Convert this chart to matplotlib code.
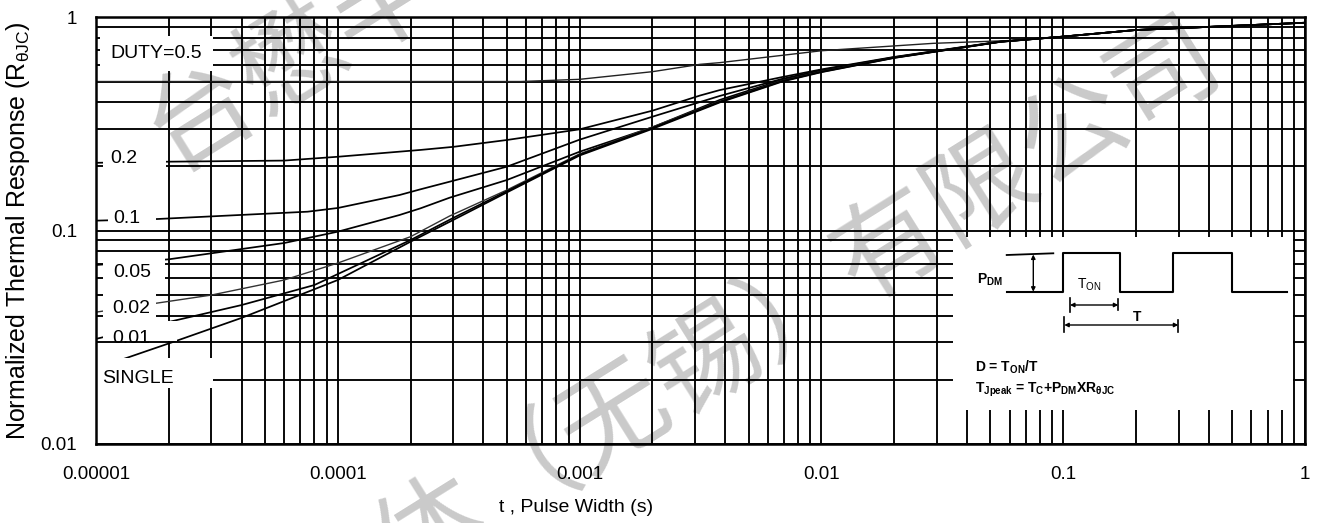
import matplotlib
matplotlib.use("Agg")
import matplotlib.pyplot as plt
from matplotlib.patches import Rectangle
from matplotlib.ticker import FixedLocator, FixedFormatter, LogLocator, NullFormatter

plt.rcParams['font.family'] = ['Liberation Sans', 'DejaVu Sans']
plt.rcParams['mathtext.fontset'] = 'custom'
plt.rcParams['mathtext.rm'] = 'Liberation Sans'
plt.rcParams['mathtext.bf'] = 'Liberation Sans:bold'
plt.rcParams['mathtext.it'] = 'Liberation Sans:italic'

# ---- transient thermal response curves: pulse width (s) vs normalized Zth ----
t_d05 = [1e-5, 4e-4, 5.7e-4, 1e-3, 2e-3, 3.15e-3, 3.8e-3, 1e-2, 2.9e-2, 6e-2, 0.1, 0.2, 1.0]
r_d05 = [0.50, 0.50, 0.50, 0.512, 0.556, 0.602, 0.613, 0.697, 0.755, 0.778, 0.812, 0.872, 0.943]

t_d02 = [1e-5, 2e-5, 6e-5, 1e-4, 2.2e-4, 3e-4, 5e-4, 1e-3, 2e-3, 3.15e-3, 3.8e-3, 6.9e-3, 1e-2, 2e-2, 5.5e-2, 0.1, 0.2, 1.0]
r_d02 = [0.208, 0.2105, 0.213, 0.222, 0.239, 0.247, 0.266, 0.2985, 0.365, 0.43, 0.456, 0.525, 0.57, 0.652, 0.77, 0.812, 0.872, 0.943]

t_d01 = [1e-5, 1.8e-5, 7.5e-5, 1e-4, 1.8e-4, 2.2e-4, 2.9e-4, 5e-4, 1e-3, 2e-3, 3.8e-3, 6.9e-3, 1e-2, 2e-2, 5.5e-2, 0.1, 0.2, 1.0]
r_d01 = [0.1114, 0.1134, 0.1227, 0.1277, 0.1469, 0.1563, 0.1696, 0.1994, 0.267, 0.342, 0.428, 0.515, 0.565, 0.65, 0.769, 0.812, 0.872, 0.943]

t_d005 = [1e-5, 2e-5, 6e-5, 1e-4, 1.8e-4, 2.2e-4, 2.9e-4, 5e-4, 1e-3, 2e-3, 3.8e-3, 6.9e-3, 1e-2, 2e-2, 5.5e-2, 0.1, 0.2, 1.0]
r_d005 = [0.069, 0.0734, 0.0875, 0.0989, 0.1184, 0.1273, 0.1427, 0.1727, 0.2344, 0.305, 0.41, 0.51, 0.56, 0.648, 0.768, 0.812, 0.872, 0.943]

t_d002 = [1e-5, 1.8e-5, 3e-5, 6e-5, 1e-4, 2e-4, 2.9e-4, 5e-4, 1e-3, 2e-3, 3.8e-3, 6.9e-3, 1e-2, 2e-2, 5.5e-2, 0.1, 0.2, 1.0]
r_d002 = [0.0415, 0.0458, 0.0499, 0.0587, 0.0705, 0.0937, 0.1171, 0.155, 0.229, 0.306, 0.404, 0.505, 0.557, 0.647, 0.768, 0.812, 0.872, 0.943]

t_d001 = [1e-5, 2.16e-5, 4e-5, 8e-5, 2e-4, 3e-4, 5e-4, 1e-3, 2e-3, 3.8e-3, 6.9e-3, 1e-2, 2e-2, 5.5e-2, 0.1, 0.2, 1.0]
r_d001 = [0.0311, 0.0381, 0.0448, 0.0556, 0.0904, 0.1147, 0.153, 0.227, 0.303, 0.402, 0.503, 0.555, 0.646, 0.768, 0.812, 0.872, 0.943]

t_single = [1e-5, 1.67e-5, 2.16e-5, 4e-5, 1e-4, 2e-4, 3e-4, 5e-4, 1e-3, 2e-3, 3.8e-3, 6.9e-3, 1e-2, 2e-2, 5.5e-2, 0.1, 0.2, 1.0]
r_single = [0.0226, 0.0276, 0.0305, 0.039, 0.0587, 0.0888, 0.1122, 0.151, 0.225, 0.300, 0.399, 0.50, 0.553, 0.645, 0.767, 0.812, 0.872, 0.943]

curve_labels = ["DUTY=0.5", "0.2", "0.1", "0.05", "0.02", "0.01", "SINGLE"]

x_ticks = [1e-5, 1e-4, 1e-3, 1e-2, 1e-1, 1]
x_tick_labels = ["0.00001", "0.0001", "0.001", "0.01", "0.1", "1"]
y_ticks = [0.01, 0.1, 1]
y_tick_labels = ["0.01", "0.1", "1"]

watermark = "台懋半导体（无锡）有限公司"

# ---- figure layout (pixel based) ----
W, H = 1320, 523
L, R, T, B = 96, 1305, 17.3, 444
fig = plt.figure(figsize=(W / 100, H / 100), dpi=100)
fig.patch.set_facecolor('white')
ax = fig.add_axes([L / W, 1 - B / H, (R - L) / W, (B - T) / H])


def pa(x, y):
    """pixel position -> axes fraction"""
    return (x - L) / (R - L), (B - y) / (B - T)


ax.set_xscale('log')
ax.set_yscale('log')
ax.set_xlim(1e-5, 1)
ax.set_ylim(0.01, 1)
ax.xaxis.set_major_locator(FixedLocator(x_ticks))
ax.xaxis.set_major_formatter(FixedFormatter(x_tick_labels))
ax.yaxis.set_major_locator(FixedLocator(y_ticks))
ax.yaxis.set_major_formatter(FixedFormatter(y_tick_labels))
for axis in (ax.xaxis, ax.yaxis):
    axis.set_minor_locator(LogLocator(base=10, subs=range(2, 10), numticks=30))
    axis.set_minor_formatter(NullFormatter())
ax.set_axisbelow(True)
ax.grid(True, which='both', color='black', lw=1.35)
ax.tick_params(which='both', length=0, labelsize=13.5)
ax.tick_params(axis='x', pad=16)
ax.tick_params(axis='y', pad=13.5)
for s in ax.spines.values():
    s.set_linewidth(1.8)
    s.set_zorder(5)

curves = [(t_d05, r_d05, 1.0, '#222222'), (t_d02, r_d02, 1.25, 'black'),
          (t_d01, r_d01, 1.25, 'black'), (t_d005, r_d005, 1.25, 'black'),
          (t_d002, r_d002, 1.0, '#333333'), (t_d001, r_d001, 1.25, 'black'),
          (t_single, r_single, 1.25, 'black')]
for tt, rr, lw, c in curves:
    ax.plot(tt, rr, color=c, lw=lw, zorder=2, solid_capstyle='butt')

# white label boxes covering grid and curve starts
boxes = [(100, 36, 213, 71), (103, 142, 166, 174), (108, 203, 156, 228),
         (103, 257, 165, 283), (103, 289, 156, 320), (103, 321, 177, 341),
         (96, 358, 213, 388)]
text_pos = [(110, 58), (110, 163), (113, 223), (113, 277), (112, 313), (112, 343), (102, 383)]
for (x0, y0, x1, y1), (tx, ty), lab in zip(boxes, text_pos, curve_labels):
    bx, by = pa(x0, y1)
    bw = (x1 - x0) / (R - L)
    bh = (y1 - y0) / (B - T)
    ax.add_patch(Rectangle((bx, by), bw, bh, transform=ax.transAxes,
                           facecolor='white', edgecolor='none', zorder=3))
    px, py = pa(tx, ty)
    ax.text(px, py, lab, transform=ax.transAxes, fontsize=14,
            ha='left', va='baseline', zorder=4)

ax.set_xlabel('t , Pulse Width (s)', fontsize=14)
ax.xaxis.label.set_va('center')
ax.xaxis.set_label_coords(*pa(576, 508))
ax.set_ylabel('Normalized Thermal Response (R$_\\mathrm{θJC}$)', fontsize=18)
ax.yaxis.label.set_va('center')
ax.yaxis.set_label_coords(*pa(18, 230.6))

# ---- inset: pulse train definition ----
IX0, IY0, IX1, IY1 = 953, 237, 1293, 410
ins = fig.add_axes([IX0 / W, 1 - IY1 / H, (IX1 - IX0) / W, (IY1 - IY0) / H])
ins.set_facecolor('white')
ins.set_xlim(0, IX1 - IX0)
ins.set_ylim(IY1 - IY0, 0)
ins.set_xticks([])
ins.set_yticks([])
for s in ins.spines.values():
    s.set_visible(False)

base, top = 54.7, 16.3
wx = [53.7, 110.3, 110.3, 167, 167, 220.3, 220.3, 278.7, 278.7, 334]
wy = [base, base, top, top, base, base, top, top, base, base]
ins.plot(wx, wy, color='black', lw=1.5, solid_joinstyle='round')
ins.plot([53.7, 100.3], [18, 16.3], color='black', lw=1.3)
ins.annotate('', xy=(80.3, 17.5), xytext=(80.3, base),
             arrowprops=dict(arrowstyle='<|-|>', lw=1.0, color='black',
                             mutation_scale=6, shrinkA=0, shrinkB=0))
# T_ON span
ins.annotate('', xy=(117, 68), xytext=(165.3, 68),
             arrowprops=dict(arrowstyle='<|-|>', lw=1.0, color='black',
                             mutation_scale=6, shrinkA=0, shrinkB=0))
ins.plot([117, 117], [61, 75], color='black', lw=1.2)
ins.plot([165.3, 165.3], [62, 73], color='black', lw=1.2)
# T span
ins.annotate('', xy=(111.3, 88), xytext=(225.3, 88),
             arrowprops=dict(arrowstyle='<|-|>', lw=1.0, color='black',
                             mutation_scale=6, shrinkA=0, shrinkB=0))
ins.plot([111.3, 111.3], [80, 95], color='black', lw=1.2)
ins.plot([225.3, 225.3], [83, 95], color='black', lw=1.2)

ins.text(23.7, 43, 'P$_\\mathbf{DM}$', fontsize=10, fontweight='bold', ha='left', va='center')
ins.text(124, 48, 'T$_\\mathrm{ON}$', fontsize=10, ha='left', va='center')
ins.text(184, 80, 'T', fontsize=10, fontweight='bold', ha='center', va='center')
ins.text(22, 130, 'D = T$_\\mathbf{ON}$/T', fontsize=10, fontweight='bold', ha='left', va='center')
ins.text(22, 153, 'T$_\\mathbf{Jpeak}$ = T$_\\mathbf{C}$+P$_\\mathbf{DM}$XR$_\\mathbf{θJC}$',
         fontsize=10, fontweight='bold', ha='left', va='center')

# ---- company watermark (two diagonal rows) ----
wm_kw = dict(fontsize=77.8, color='black', alpha=0.21, rotation=32,
             rotation_mode='anchor', va='center', zorder=10,
             family=['Noto Sans CJK SC', 'DejaVu Sans'])
fig.text(154.2 / W, 1 - 143.6 / H, watermark, ha='left', **wm_kw)
fig.text(1209.8 / W, 1 - 43.4 / H, watermark, ha='right', **wm_kw)

fig.savefig('out.png', dpi=100, facecolor='white')
